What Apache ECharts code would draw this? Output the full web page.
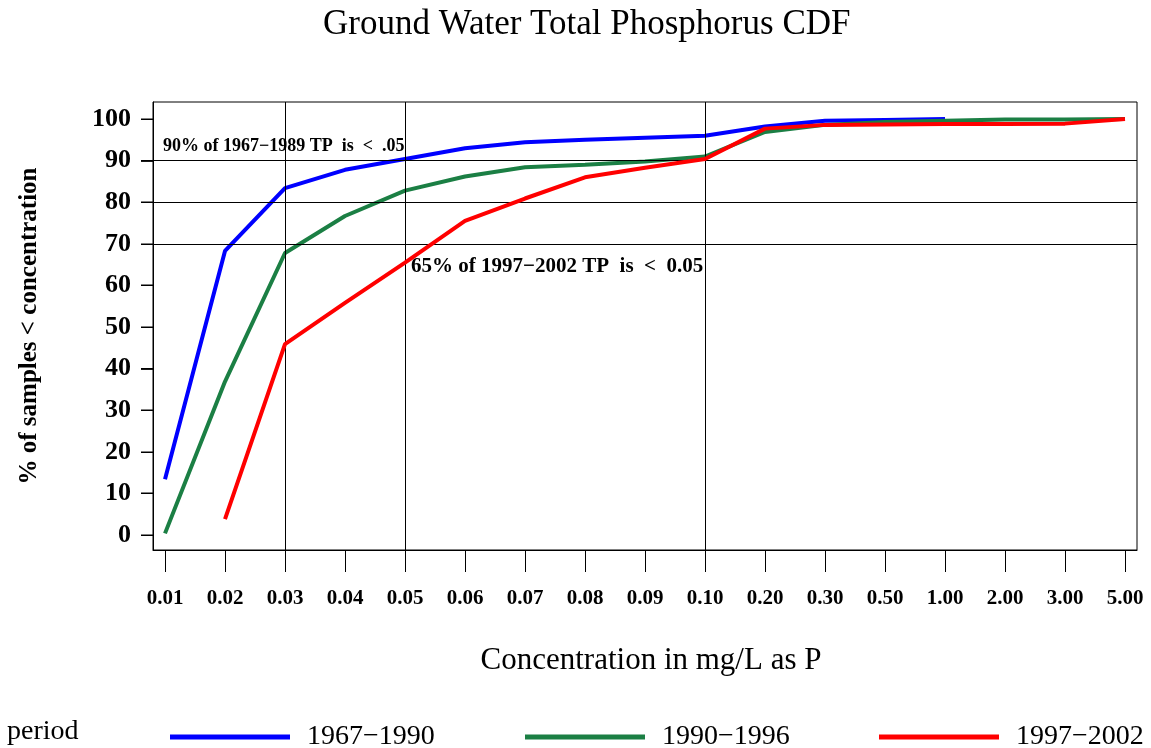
<!DOCTYPE html>
<html><head><meta charset="utf-8">
<script src="https://cdn.jsdelivr.net/npm/echarts@6/dist/echarts.min.js"></script>
<style>html,body{margin:0;padding:0;background:#fff}#c{width:1151px;height:748px}</style>
</head><body><div id="c"></div>
<script>
const categories = ['0.01','0.02','0.03','0.04','0.05','0.06','0.07','0.08','0.09','0.10','0.20','0.30','0.50','1.00','2.00','3.00','5.00'];
const yTicks = [0,10,20,30,40,50,60,70,80,90,100];
const s1967 = [13.4,68.3,83.4,87.8,90.4,93.0,94.4,95.0,95.5,96.0,98.2,99.6,99.8,100.0,null,null,null];
const s1990 = [0.4,36.9,67.8,76.7,82.8,86.2,88.4,89.0,89.8,91.0,96.9,98.6,99.3,99.6,99.9,99.9,100.0];
const s1997 = [null,3.8,45.9,55.8,65.5,75.5,80.9,86.0,88.3,90.4,97.7,98.6,98.7,98.8,98.8,98.9,100.0];
const seriesNames = ['1967\u22121990','1990\u22121996','1997\u22122002'];
const refY = [70,80,90];
const refX = ['0.03','0.05','0.10'];

const serif = '"Liberation Serif", "DejaVu Serif", serif';
const toPairs = arr => arr.map((v,i)=>[i,v]);
const colors = ['#0000ff','#1b7f44','#ff0000'];
const datas = [s1967,s1990,s1997];
const X_MIN = -0.2, X_MAX = 16.2, Y_MIN = -3.6, Y_MAX = 104.1;

const chart = echarts.init(document.getElementById('c'), null, {renderer:'canvas'});
const series = datas.map((d,k)=>({
  name: seriesNames[k], type:'line', data: toPairs(d), showSymbol:false, symbol:'none',
  connectNulls:false, lineStyle:{width:4, color:colors[k]}, itemStyle:{color:colors[k]},
  z: 3+k, animation:false
}));
series[0].markLine = {
  silent:true, symbol:'none', animation:false, label:{show:false},
  lineStyle:{color:'#000', width:1, type:'solid'},
  data: refY.map(v=>({yAxis:v})).concat(refX.map(c=>({xAxis:categories.indexOf(c)})))
};
// y-axis tick marks as thin filled rects, placed through the library's coordinate system
series.push({
  type:'custom', silent:true, clip:false, z:20, animation:false,
  data: yTicks.map(v=>[X_MIN, v]),
  encode:{x:0, y:1},
  renderItem:(params, api) => {
    const p = api.coord([api.value(0), api.value(1)]);
    return {type:'rect', z2:50,
      shape:{x:p[0]-12, y:Math.round(p[1])-0.5, width:12, height:1.4},
      style:{fill:'#000', stroke:null}};
  }
});
const legends = seriesNames.map((n,k)=>({
  data:[{name:n, icon:'rect'}], left:[165,520,874][k], top:718, itemWidth:120, itemHeight:5,
  itemGap:0, selectedMode:false,
  textStyle:{fontFamily:serif, fontSize:28, color:'#000', padding:[0,0,0,12]}
}));
chart.setOption({
  animation:false,
  backgroundColor:'#fff',
  title:{text:'Ground Water Total Phosphorus CDF', left:318, top:2,
    textStyle:{fontFamily:serif, fontSize:35, fontWeight:'normal', color:'#000'}},
  legend: legends,
  grid:{left:153, right:14, top:102, bottom:198, show:true, borderColor:'#000', borderWidth:1, containLabel:false},
  xAxis:{type:'value', min:X_MIN, max:X_MAX, position:'bottom',
    axisLine:{show:true, onZero:false, lineStyle:{color:'#000', width:1}}, splitLine:{show:false},
    axisTick:{show:true, inside:false, customValues:categories.map((c,i)=>i), length:22, lineStyle:{color:'#000', width:1}},
    axisLabel:{customValues:categories.map((c,i)=>i), formatter:v=>categories[Math.round(v)],
      margin:38, fontFamily:serif, fontSize:21, fontWeight:'bold', color:'#000'}
  },
  yAxis:{type:'value', min:Y_MIN, max:Y_MAX, position:'left',
    axisLine:{show:true, onZero:false, lineStyle:{color:'#000', width:1}}, splitLine:{show:false},
    axisTick:{show:true, inside:false, customValues:yTicks, length:12, lineStyle:{color:'#000', width:1}},
    axisLabel:{customValues:yTicks, margin:22, fontFamily:serif, fontSize:26, fontWeight:'bold', color:'#000'},
    name:'% of samples < concentration', nameLocation:'middle', nameGap:111, nameRotate:90,
    nameTextStyle:{fontFamily:serif, fontSize:25, fontWeight:'bold', color:'#000'}
  },
  graphic:[
    {type:'text', left:7, top:718, style:{text:'period', font:'28px '+serif, fill:'#000'}},
    {type:'text', left:163, top:137, style:{text:'90% of 1967\u22121989 TP  is  <  .05', font:'bold 18px '+serif, fill:'#000'}},
    {type:'text', left:411, top:256, style:{text:'65% of 1997\u22122002 TP  is  <  0.05', font:'bold 21px '+serif, fill:'#000'}},
    {type:'text', x:651, y:661, style:{text:'Concentration in mg/L as P', font:'31px '+serif, fill:'#000', textAlign:'center', textVerticalAlign:'middle'}}
  ],
  series: series
});
</script></body></html>
